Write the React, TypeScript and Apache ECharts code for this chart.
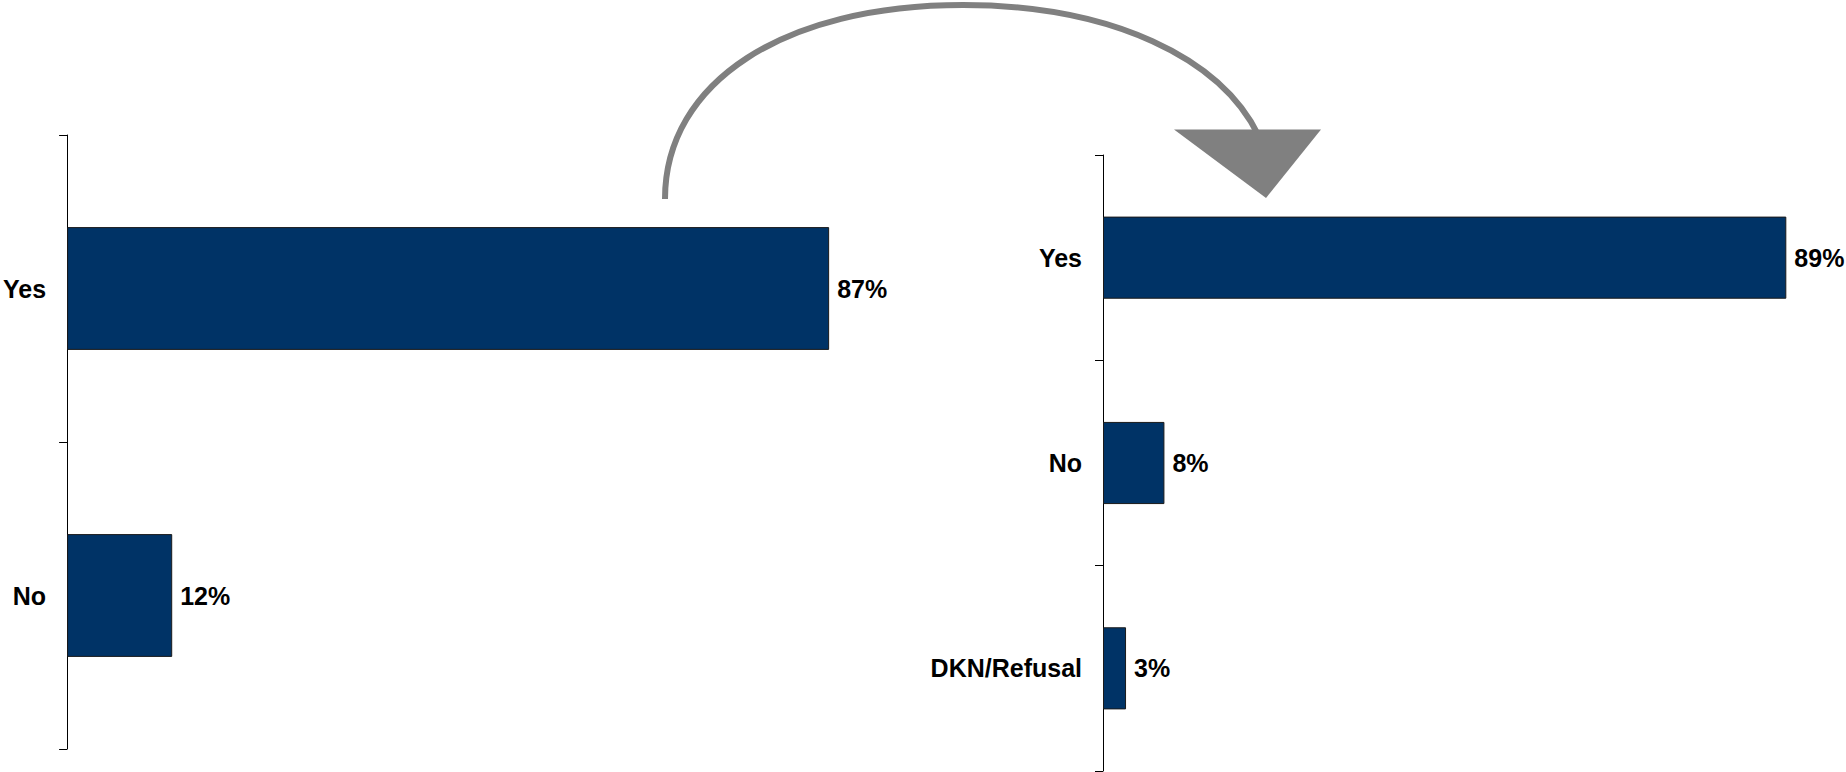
import React, { useEffect, useRef } from "react";
import * as echarts from "echarts";

const leftCategories = ["Yes", "No"];
const leftValues = [87, 12];
const rightCategories = ["Yes", "No", "DKN/Refusal"];
const rightValues = [89, 8, 3];

const BAR_COLOR = "#003366";
const FONT = "'Liberation Sans', Arial, sans-serif";

export default function App() {
  const ref = useRef<HTMLDivElement>(null);

  useEffect(() => {
    if (!ref.current) return;
    const chart = echarts.init(ref.current, undefined, { renderer: "svg" });

    const yAxisCommon = {
      type: "category" as const,
      inverse: true,
      axisLine: { show: true, lineStyle: { color: "#000", width: 1 } },
      axisTick: { show: true, length: 8, lineStyle: { color: "#000", width: 1 } },
      axisLabel: {
        color: "#000",
        fontFamily: FONT,
        fontWeight: "bold" as const,
        fontSize: 25,
        margin: 21,
      },
      splitLine: { show: false },
    };

    const seriesCommon = {
      type: "bar" as const,
      barCategoryGap: "60%",
      itemStyle: { color: BAR_COLOR, borderColor: "#1a1a1a", borderWidth: 1 },
      label: {
        show: true,
        position: "right" as const,
        distance: 8,
        formatter: "{c}%",
        color: "#000",
        fontFamily: FONT,
        fontWeight: "bold" as const,
        fontSize: 25,
      },
    };

    chart.setOption({
      animation: false,
      backgroundColor: "#fff",
      grid: [
        { left: 66, top: 135, width: 877, height: 614 },
        { left: 1103, top: 155, width: 691, height: 616 },
      ],
      xAxis: [
        { type: "value", gridIndex: 0, min: 0, max: 100, show: false },
        { type: "value", gridIndex: 1, min: 0, max: 90, show: false },
      ],
      yAxis: [
        { ...yAxisCommon, gridIndex: 0, data: leftCategories },
        { ...yAxisCommon, gridIndex: 1, data: rightCategories },
      ],
      series: [
        { ...seriesCommon, xAxisIndex: 0, yAxisIndex: 0, data: leftValues },
        { ...seriesCommon, xAxisIndex: 1, yAxisIndex: 1, data: rightValues },
      ],
      graphic: [
        {
          type: "bezierCurve",
          shape: { x1: 665, y1: 199, cpx1: 665, cpy1: 82, cpx2: 784, cpy2: 5, x2: 963, y2: 5 },
          style: { stroke: "#808080", lineWidth: 6, fill: null },
          silent: true,
        },
        {
          type: "bezierCurve",
          shape: { x1: 963, y1: 5, cpx1: 1149, cpy1: 5, cpx2: 1273, cpy2: 88, x2: 1273, y2: 198, percent: 0.8 },
          style: { stroke: "#808080", lineWidth: 6, fill: null },
          silent: true,
        },
        {
          type: "polygon",
          shape: { points: [[1174, 129.5], [1321, 129.5], [1266, 198]] },
          style: { fill: "#808080" },
          silent: true,
        },
      ],
    });

    return () => chart.dispose();
  }, []);

  return (
    <div
      ref={ref}
      style={{ position: "fixed", left: 0, top: 0, width: 1846, height: 772 }}
    />
  );
}
